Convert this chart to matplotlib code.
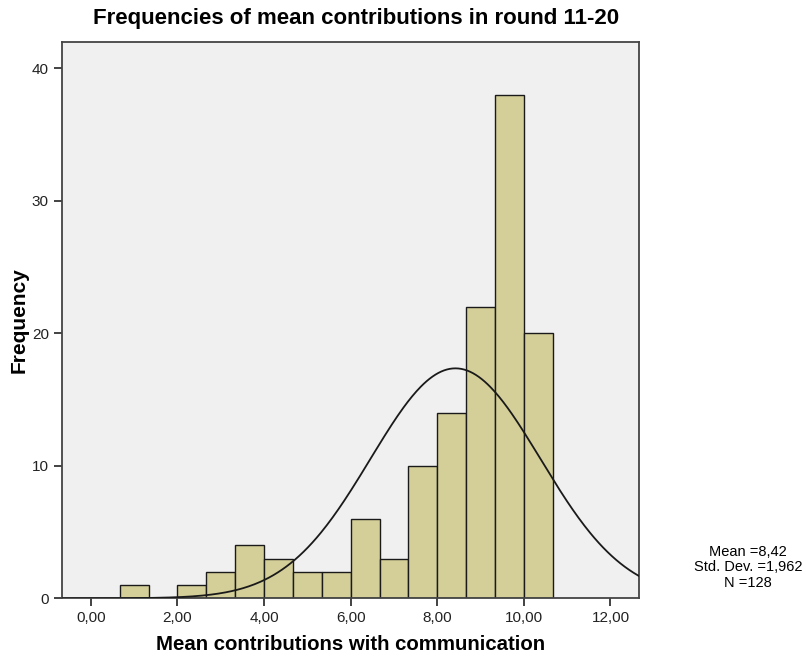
import numpy as np
import matplotlib
matplotlib.use("Agg")
import matplotlib.pyplot as plt

plt.rcParams['font.family'] = ['Liberation Sans', 'DejaVu Sans']

bin_edges = [i * 2 / 3 for i in range(1, 17)]  # 0.667 ... 10.667
counts = [1, 0, 1, 2, 4, 3, 2, 2, 6, 3, 10, 14, 22, 38, 20]
mean, sd, n = 8.42, 1.962, 128
xticks = [0, 2, 4, 6, 8, 10, 12]
xtick_labels = ["0,00", "2,00", "4,00", "6,00", "8,00", "10,00", "12,00"]
yticks = [0, 10, 20, 30, 40]

fig = plt.figure(figsize=(8.06, 6.56), dpi=100)
ax = fig.add_axes([0.0769, 0.088, 0.7163, 0.8484])
ax.set_facecolor('#F0F0F0')

lefts = bin_edges[:-1]
widths = np.diff(bin_edges)
ax.bar(lefts, counts, width=widths, align='edge', color='#D4CF98',
       edgecolor='#1a1a1a', linewidth=1.0, zorder=2)

bw = widths[0]
xs = np.linspace(-0.667, 12.667, 400)
ys = n * bw / (sd * np.sqrt(2 * np.pi)) * np.exp(-0.5 * ((xs - mean) / sd) ** 2)
ax.plot(xs, ys, color='#1a1a1a', linewidth=1.3, zorder=3)

ax.set_xlim(-0.667, 12.667)
ax.set_ylim(0, 42)
ax.set_xticks(xticks)
ax.set_xticklabels(xtick_labels)
ax.set_yticks(yticks)
ax.tick_params(axis='both', direction='out', length=6, width=1.2,
               labelsize=11, colors='#222222')
for s in ax.spines.values():
    s.set_color('#444444')
    s.set_linewidth(1.3)

ax.set_xlabel('Mean contributions with communication', fontsize=14.7,
              fontweight='bold', labelpad=7)
ax.set_ylabel('Frequency', fontsize=15, fontweight='bold', labelpad=2)
fig.text(0.4423, 0.963, 'Frequencies of mean contributions in round 11-20',
         ha='center', va='baseline', fontsize=16, fontweight='bold')

fig.text(0.928, 0.135, 'Mean =8,42\nStd. Dev. =1,962\nN =128',
         ha='center', va='center', fontsize=10.5, linespacing=1.17)

fig.savefig('out.png', dpi=100)
